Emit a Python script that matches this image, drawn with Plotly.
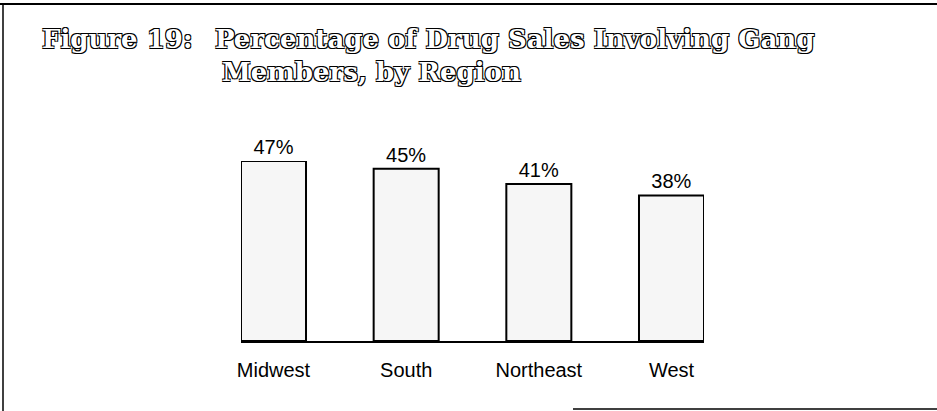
import plotly.graph_objects as go

regions = ["Midwest", "South", "Northeast", "West"]
pct = [47, 45, 41, 38]
labels = [f"{v}%" for v in pct]

W, H = 937, 411
L, R, T, B = 241, 704, 161, 341


def px(x):
    return (x - L) / (R - L)


def py(y):
    return (B - y) / (B - T)


fig = go.Figure()
fig.add_trace(go.Bar(
    x=regions, y=pct, text=labels, textposition="outside",
    textfont=dict(family="Liberation Sans, Arial, sans-serif", size=20, color="black"),
    marker=dict(color="#f6f6f6", line=dict(color="black", width=2)),
    width=0.49, cliponaxis=False,
))

outline = "-1px -1px 0 #000, 1px -1px 0 #000, -1px 1px 0 #000, 1px 1px 0 #000"
tfont = dict(family="DejaVu Serif, serif", size=26, color="white", weight="bold", shadow=outline)

annotations = [
    dict(text="Figure 19:", x=px(40), y=py(39)),
    dict(text="Percentage of Drug Sales Involving Gang", x=px(213), y=py(39)),
    dict(text="Members, by Region", x=px(220), y=py(72)),
]
for a in annotations:
    a.update(xref="paper", yref="paper", showarrow=False, font=tfont,
             xanchor="left", yanchor="middle")

shapes = [
    dict(type="line", x0=px(0), x1=px(937), y0=py(4), y1=py(4), line=dict(color="black", width=2)),
    dict(type="line", x0=px(3), x1=px(3), y0=py(4), y1=py(411), line=dict(color="black", width=1.5)),
    dict(type="line", x0=px(573), x1=px(937), y0=py(409), y1=py(409), line=dict(color="black", width=1.5)),
]
for s in shapes:
    s.update(xref="paper", yref="paper")

fig.update_layout(
    width=W, height=H, autosize=False,
    margin=dict(l=L, r=W - R, t=T, b=H - B),
    paper_bgcolor="white", plot_bgcolor="white",
    showlegend=False,
    annotations=annotations, shapes=shapes,
    xaxis=dict(range=[-0.245, 3.245], showline=True, linecolor="black", linewidth=2,
               showgrid=False, ticks="", ticklabelstandoff=10,
               tickfont=dict(family="Liberation Sans, Arial, sans-serif", size=20, color="black")),
    yaxis=dict(range=[0, 47], visible=False, showgrid=False, zeroline=False),
)

fig.write_html("out.html", config={"displayModeBar": False},
               post_script="document.body.style.margin='0';document.body.style.overflow='hidden';")
